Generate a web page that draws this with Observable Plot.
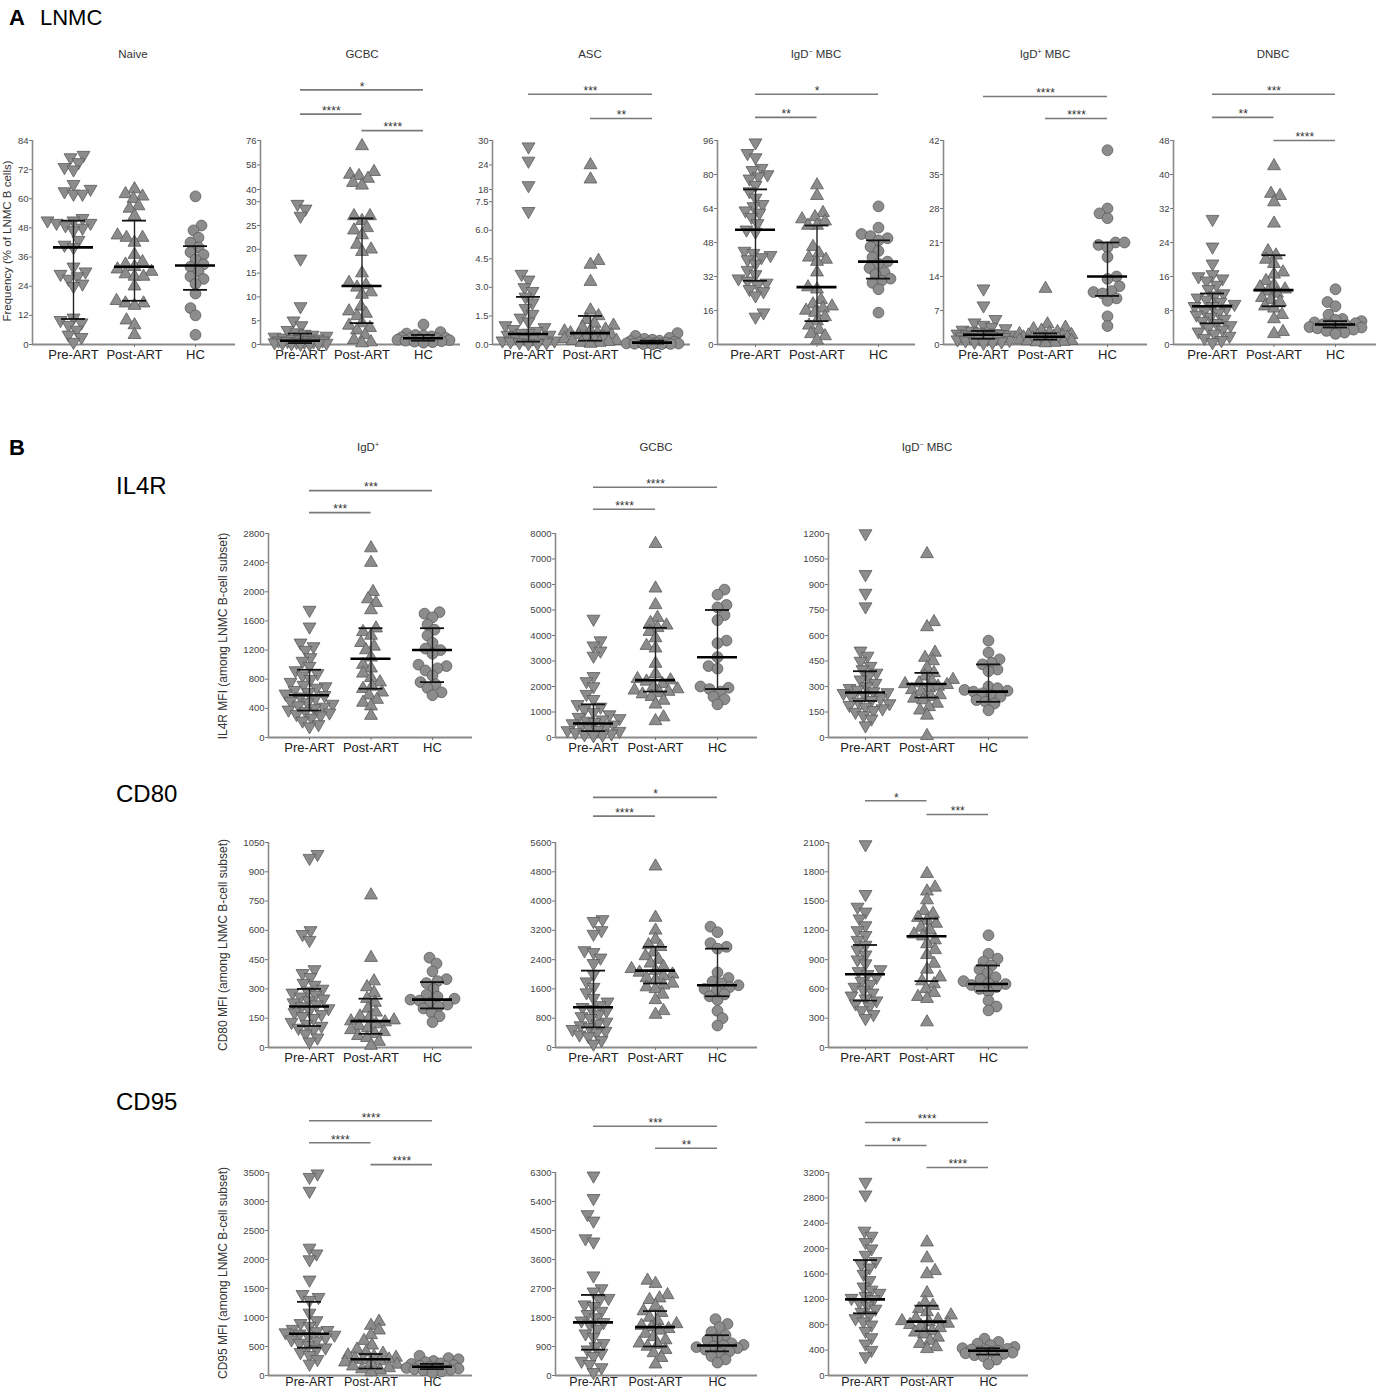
<!DOCTYPE html>
<html><head><meta charset="utf-8">
<script src="https://cdn.jsdelivr.net/npm/d3@7"></script>
<script src="https://cdn.jsdelivr.net/npm/@observablehq/plot@0.6"></script>
<style>
body{margin:0;background:#fff;}
#fig{position:relative;width:1376px;height:1392px;overflow:hidden;font-family:"Liberation Sans",Arial,sans-serif;color:#222;background:#fff;}
.t{position:absolute;white-space:nowrap;line-height:1;}
.t sup{font-size:0.6em;line-height:0;vertical-align:0.55em;}
#fig svg{overflow:visible;position:absolute;}
</style></head><body><div id="fig"></div>
<script>
const groups = ["Pre-ART", "Post-ART", "HC"];

// ---------- Panel A: frequency (% of LNMC B cells) ----------
const naivePre  = [78, 77, 75, 73, 72, 66, 64, 63, 62, 62, 52, 51, 51, 50, 50, 49, 48, 47, 43, 41, 40, 32, 30, 29, 28, 27, 25, 24, 11, 10, 9, 8, 6, 4, 3, 1];
const naivePost = [64, 62, 61, 60, 57, 56, 53, 45, 44, 44, 42, 37, 34, 33, 32, 31, 30, 29, 28, 28, 24, 18, 17, 17, 16, 10, 8, 4];
const naiveHC   = [61, 49, 47, 44, 42, 40, 38, 37, 35, 33, 32, 30, 28, 27, 25, 21, 15, 12, 4];
const naiveStats = [[40, 10.5, 51], [32, 18, 51], [32.5, 22.5, 40.5]];

const gcbcPre  = [29.5, 28.5, 27, 18, 8, 5, 4, 3, 2.5, 2.2, 2, 1.8, 1.6, 1.4, 1.2, 1.1, 1, 0.9, 0.8, 0.8, 0.7, 0.6, 0.5, 0.5, 0.4, 0.3, 0.3, 0.2, 0.2, 0.1, 0.1];
const gcbcPost = [72, 53, 51, 50, 48, 45, 43, 27, 27, 26, 24.5, 24, 23, 21, 20, 19.5, 15, 13, 12.5, 12, 11, 10.5, 8, 7, 6.5, 6, 4.5, 4, 3.5, 3, 2, 1, 0.5, 0.3];
const gcbcHC   = [4.2, 2.6, 2.3, 2.0, 1.9, 1.7, 1.5, 1.4, 1.3, 1.3, 1.2, 1.1, 1.0, 0.9, 0.8, 0.7, 0.6, 0.5, 0.4];
const gcbcStats = [[0.8, 0.3, 2.3], [12.3, 4.5, 26.5], [1.3, 0.8, 2]];

const ascPre  = [28.5, 25, 19, 7, 3.7, 3.4, 3.0, 2.8, 2.5, 2.2, 1.9, 1.6, 1.4, 1.2, 1.0, 0.9, 0.8, 0.7, 0.6, 0.6, 0.5, 0.5, 0.4, 0.4, 0.3, 0.3, 0.2, 0.2, 0.15, 0.1, 0.1, 0.05, 0.05];
const ascPost = [24, 20.5, 4.4, 4.2, 3.3, 1.8, 1.5, 1.3, 1.1, 1.0, 0.9, 0.8, 0.7, 0.7, 0.6, 0.6, 0.5, 0.5, 0.4, 0.4, 0.3, 0.3, 0.2, 0.2, 0.15, 0.1, 0.1, 0.05];
const ascHC   = [0.6, 0.45, 0.35, 0.3, 0.25, 0.2, 0.18, 0.15, 0.12, 0.1, 0.1, 0.08, 0.06, 0.05, 0.04, 0.03, 0.02, 0.02, 0.01];
const ascStats = [[0.55, 0.15, 2.5], [0.6, 0.2, 1.5], [0.1, 0.05, 0.2]];

const mbcNegPre  = [95, 90, 88, 83, 82, 80, 79, 78, 75, 72, 69, 66, 65, 63, 62, 60, 57, 54, 53, 44, 43, 42, 41, 40, 38, 35, 33, 31, 30, 29, 28, 26, 25, 23, 15, 13];
const mbcNegPost = [75, 70, 62, 60, 59, 58, 56, 56, 46, 43, 41, 40, 39, 34, 27, 26, 21, 19, 18, 17, 16, 15, 13, 11, 9, 7, 5, 4, 2];
const mbcNegHC   = [65, 55, 52, 51, 50, 49, 46, 44, 41, 39, 38, 36, 34, 33, 31, 30, 29, 26, 15];
const mbcNegStats = [[54, 30, 73], [27, 11, 56], [39, 31, 49]];

const mbcPosPre  = [11.5, 8, 5.2, 4.5, 4, 3.6, 3.3, 3, 2.8, 2.6, 2.4, 2.3, 2.2, 2.1, 2, 2, 1.9, 1.8, 1.7, 1.6, 1.5, 1.4, 1.3, 1.2, 1.1, 1.0, 0.9, 0.8, 0.6, 0.5, 0.4, 0.3];
const mbcPosPost = [11.5, 4.2, 3.5, 3.2, 2.9, 2.6, 2.4, 2.2, 2.0, 1.9, 1.8, 1.7, 1.6, 1.6, 1.5, 1.4, 1.3, 1.2, 1.1, 1.0, 0.9, 0.8, 0.7, 0.6, 0.5, 0.4, 0.3];
const mbcPosHC   = [40, 28, 27, 26, 21, 21, 20.5, 20, 18, 14, 13.5, 12, 11, 10.8, 10.5, 9.5, 9, 5.8, 3.8];
const mbcPosStats = [[2, 1.2, 2.8], [1.6, 1, 2.3], [14, 10, 21]];

const dnbcPre  = [29.5, 23, 19, 16.5, 16, 15.5, 15, 14, 13, 12, 11.5, 11, 10.5, 10, 9.5, 9, 9, 8.5, 8, 7.5, 7, 6.5, 6, 5.5, 5, 4.5, 4, 3.5, 3, 2.5, 2, 1.5, 1, 0.5];
const dnbcPost = [42, 35.5, 35, 33.5, 28.5, 22, 21, 20, 19, 17, 16.5, 15, 14, 13.5, 13, 12.5, 12, 11, 10.5, 10, 9, 8.5, 7, 6, 3, 2.5];
const dnbcHC   = [13, 10, 9, 7, 6, 5.8, 5.5, 5.2, 5, 4.8, 4.6, 4.5, 4.3, 4.1, 4, 3.8, 3.5, 3.2, 2.8, 2.5];
const dnbcStats = [[9, 5, 12], [12.8, 9, 21], [4.7, 4, 5.5]];

// ---------- Panel B: MFI among LNMC B-cell subset ----------
const il4rIgdPre  = [1750, 1520, 1300, 1250, 1200, 1100, 1050, 980, 920, 880, 850, 800, 760, 720, 700, 680, 650, 620, 600, 580, 560, 540, 500, 480, 460, 440, 420, 400, 380, 360, 340, 320, 300, 270, 230, 180, 150];
const il4rIgdPost = [2600, 2400, 2000, 1900, 1850, 1750, 1500, 1450, 1400, 1300, 1250, 1200, 1100, 1000, 950, 880, 820, 760, 700, 670, 620, 580, 520, 480, 430, 300];
const il4rIgdHC   = [1720, 1700, 1650, 1550, 1480, 1400, 1300, 1220, 1200, 1150, 1000, 980, 950, 920, 850, 760, 730, 680, 620, 580];
const il4rIgdStats = [[580, 370, 930], [1080, 670, 1500], [1200, 760, 1500]];

const il4rGcPre  = [4650, 3800, 3600, 3400, 3200, 2400, 2200, 2000, 1700, 1500, 1300, 1200, 1100, 1000, 900, 800, 750, 700, 650, 600, 550, 500, 450, 400, 350, 300, 280, 250, 200, 150, 120, 100, 80];
const il4rGcPost = [7600, 5850, 5200, 4700, 4500, 4400, 4300, 4150, 3900, 3600, 3500, 2900, 2500, 2300, 2250, 2200, 2100, 2000, 1900, 1850, 1800, 1750, 1700, 1600, 1450, 1300, 800, 650];
const il4rGcHC   = [5800, 5600, 5200, 5100, 4800, 4600, 3800, 3700, 3150, 2800, 2700, 2000, 1950, 1900, 1800, 1600, 1500, 1300];
const il4rGcStats = [[550, 250, 1300], [2250, 1800, 4300], [3150, 1900, 5000]];

const il4rMbcPre  = [1200, 960, 850, 770, 510, 480, 450, 420, 400, 380, 360, 340, 320, 300, 290, 280, 270, 265, 260, 250, 240, 230, 220, 210, 200, 190, 180, 170, 160, 150, 130, 110, 70];
const il4rMbcPost = [1080, 680, 650, 500, 470, 450, 410, 380, 360, 340, 330, 320, 315, 310, 300, 290, 280, 270, 250, 240, 230, 220, 200, 180, 160, 130, 10];
const il4rMbcHC   = [570, 500, 460, 440, 430, 400, 390, 300, 290, 280, 275, 270, 260, 250, 240, 220, 210, 200, 160];
const il4rMbcStats = [[265, 215, 390], [315, 235, 380], [270, 210, 430]];

const cd80IgdPre  = [990, 970, 600, 580, 550, 400, 380, 360, 330, 320, 300, 290, 280, 270, 260, 250, 240, 230, 220, 210, 200, 190, 180, 170, 160, 150, 130, 120, 110, 100, 90, 70, 50, 30];
const cd80IgdPost = [780, 460, 340, 310, 280, 250, 230, 200, 180, 160, 150, 140, 135, 130, 120, 110, 100, 90, 80, 70, 60, 50, 30, 10];
const cd80IgdHC   = [460, 430, 390, 350, 340, 330, 300, 270, 260, 250, 245, 240, 230, 220, 210, 200, 180, 160, 130];
const cd80IgdStats = [[210, 110, 300], [135, 70, 250], [245, 200, 335]];

const cd80GcPre  = [3500, 3450, 3200, 3100, 2650, 2600, 2450, 2300, 2000, 1800, 1650, 1500, 1350, 1250, 1150, 1100, 1050, 1000, 900, 850, 800, 700, 650, 600, 550, 500, 450, 400, 350, 300, 200, 100];
const cd80GcPost = [4950, 3550, 3200, 2950, 2800, 2750, 2600, 2500, 2400, 2300, 2200, 2150, 2100, 2050, 2000, 1950, 1900, 1850, 1750, 1700, 1650, 1600, 1450, 1300, 1000, 900];
const cd80GcHC   = [3300, 3150, 2850, 2750, 2700, 2050, 1900, 1800, 1750, 1700, 1650, 1600, 1550, 1450, 1400, 1300, 1000, 800, 600];
const cd80GcStats = [[1100, 550, 2100], [2100, 1750, 2750], [1700, 1400, 2700]];

const cd80MbcPre  = [2080, 1570, 1440, 1390, 1320, 1250, 1200, 1150, 1100, 1050, 1000, 950, 900, 860, 800, 780, 750, 720, 680, 650, 620, 590, 560, 530, 500, 480, 450, 420, 380, 340, 300];
const cd80MbcPost = [1780, 1640, 1600, 1510, 1400, 1370, 1330, 1300, 1270, 1230, 1200, 1160, 1140, 1100, 1060, 1000, 950, 860, 800, 720, 680, 650, 600, 560, 520, 500, 260];
const cd80MbcHC   = [1150, 960, 910, 880, 840, 800, 760, 720, 700, 680, 660, 650, 640, 620, 600, 570, 480, 420, 380];
const cd80MbcStats = [[750, 480, 1050], [1140, 680, 1320], [650, 580, 840]];

const cd95IgdPre  = [3480, 3420, 3180, 2200, 2100, 2000, 1650, 1400, 1350, 1300, 1080, 950, 900, 850, 800, 780, 760, 740, 720, 700, 680, 650, 620, 600, 560, 520, 480, 450, 400, 350, 280, 200];
const cd95IgdPost = [930, 860, 780, 700, 600, 520, 450, 400, 380, 350, 330, 310, 290, 280, 270, 250, 230, 210, 190, 160, 130, 110, 90, 60];
const cd95IgdHC   = [340, 300, 280, 250, 230, 210, 200, 180, 170, 160, 150, 140, 130, 120, 110, 100, 90, 70, 50];
const cd95IgdStats = [[720, 480, 1270], [280, 120, 370], [150, 110, 200]];

const cd95GcPre  = [6200, 5500, 5000, 4800, 4250, 4150, 3100, 2700, 2600, 2400, 2350, 2200, 2150, 2000, 1900, 1800, 1700, 1650, 1600, 1450, 1300, 1200, 1000, 900, 800, 700, 600, 450, 350, 250, 100];
const cd95GcPost = [2950, 2850, 2500, 2400, 2350, 2150, 2000, 1950, 1800, 1700, 1600, 1550, 1500, 1450, 1400, 1300, 1200, 1100, 1000, 950, 900, 800, 700, 550, 350];
const cd95GcHC   = [1750, 1600, 1500, 1350, 1250, 1150, 1100, 1000, 950, 930, 900, 880, 850, 800, 750, 700, 600, 500, 400];
const cd95GcStats = [[1650, 800, 2500], [1500, 900, 2000], [930, 750, 1250]];

const cd95MbcPre  = [3050, 2850, 2280, 2200, 2100, 2000, 1900, 1800, 1750, 1700, 1600, 1500, 1400, 1350, 1300, 1250, 1220, 1200, 1150, 1100, 1050, 1000, 950, 900, 850, 800, 700, 600, 500, 400, 300];
const cd95MbcPost = [2100, 1850, 1650, 1600, 1300, 1150, 1100, 1050, 1000, 950, 900, 880, 860, 840, 820, 800, 780, 750, 700, 680, 650, 600, 550, 500, 450, 420];
const cd95MbcHC   = [580, 530, 500, 480, 450, 430, 420, 410, 400, 390, 380, 370, 360, 350, 340, 320, 300, 250, 180];
const cd95MbcStats = [[1200, 980, 1820], [850, 700, 1100], [390, 330, 430]];

// significance comparisons: [from group, to group, label, tier]
const gcbcSig   = [[0, 2, "*", 2.3], [0, 1, "****", 1.2], [1, 2, "****", 0.45]];
const ascSig    = [[0, 2, "***", 2.1], [1, 2, "**", 1.0]];
const mbcNegSig = [[0, 2, "*", 2.1], [0, 1, "**", 1.05]];
const mbcPosSig = [[0, 2, "****", 2.0], [1, 2, "****", 1.0]];
const dnbcSig   = [[0, 2, "***", 2.1], [0, 1, "**", 1.05], [1, 2, "****", 0]];
const il4rIgdSig = [[0, 2, "***", 1.95], [0, 1, "***", 0.95]];
const il4rGcSig  = [[0, 2, "****", 2.1], [0, 1, "****", 1.1]];
const cd80GcSig  = [[0, 2, "*", 2.05], [0, 1, "****", 1.2]];
const cd80MbcSig = [[0, 1, "*", 1.9], [1, 2, "***", 1.27]];
const cd95IgdSig = [[0, 2, "****", 2.35], [0, 1, "****", 1.35], [1, 2, "****", 0.36]];
const cd95GcSig  = [[0, 2, "***", 2.1], [1, 2, "**", 1.1]];
const cd95MbcSig = [[0, 2, "****", 2.27], [0, 1, "**", 1.23], [1, 2, "****", 0.23]];

// ---------- drawing ----------
const fig = document.getElementById("fig");

function txt(html, x, baseline, size, opt = {}) {
  const d = document.createElement("div");
  d.className = "t";
  d.innerHTML = html;
  d.style.fontSize = size + "px";
  d.style.left = x + "px";
  d.style.top = (baseline - 0.8465 * size) + "px";
  if (opt.weight) d.style.fontWeight = opt.weight;
  if (opt.color) d.style.color = opt.color;
  if (opt.center) d.style.transform = "translateX(-50%)";
  fig.appendChild(d);
}
function vtxt(html, cx, cy, size) {
  const d = document.createElement("div");
  d.className = "t";
  d.innerHTML = html;
  d.style.fontSize = size + "px";
  d.style.left = cx + "px";
  d.style.top = cy + "px";
  d.style.color = "#333";
  d.style.transform = "translate(-50%,-50%) rotate(-90deg)";
  fig.appendChild(d);
}

function swarm(py, minD, maxOff) {
  const idx = py.map((_, i) => i).sort((a, b) => py[b] - py[a]);
  const off = new Array(py.length).fill(0);
  const placed = [];
  idx.forEach((i, n) => {
    let best = 0, bestD = -1, found = false;
    for (let m = 0; m <= maxOff && !found; m += 1) {
      for (const s of (n % 2 ? [1, -1] : [-1, 1])) {
        const o = s * m;
        let d = Infinity;
        for (const p of placed) {
          const dd = Math.hypot(o - p.o, py[i] - p.y);
          if (dd < d) d = dd;
        }
        if (d >= minD) { best = o; found = true; break; }
        if (d > bestD) { bestD = d; best = o; }
      }
    }
    off[i] = best;
    placed.push({o: best, y: py[i]});
  });
  return off;
}

const symbols = [
  {symbol: "triangle", rotate: 180, r: 4.8},
  {symbol: "triangle", rotate: 0, r: 4.8},
  {symbol: "circle", rotate: 0, r: 5.4}
];

function panel(cfg) {
  const {series, stats, sig = [], axisX, cat0, step, endX, y0, yTop, domain, stops = [0, 1], ticks,
    fmt = d => String(d), xFont = 13, xPad = 2, xTick = 3} = cfg;
  const mL = 44, mR = 6, mT = 70, mB = 30;
  const H = y0 - yTop, W = endX - axisX;
  const width = mL + W + mR, height = mT + H + mB;
  const yRange = stops.map(f => mT + H * (1 - f));
  const ys = Plot.scale({y: {type: "linear", domain, range: yRange}});
  const xDomain = [(axisX - cat0) / step, (endX - cat0) / step];
  const top = domain[domain.length - 1];

  const marks = [
    Plot.ruleY([domain[0]], {stroke: "#8a8a8a", strokeWidth: 2}),
    Plot.ruleX([xDomain[0]], {stroke: "#8a8a8a", strokeWidth: 1.6}),
    Plot.axisY({ticks, tickFormat: fmt, tickSize: 3, tickPadding: 1, fontSize: 9.5, stroke: "#777", fill: "#444", label: null}),
    Plot.axisX({ticks: [0, 1, 2], tickFormat: i => groups[i], tickSize: xTick, tickPadding: xPad, fontSize: xFont, stroke: "#777", fill: "#222", label: null})
  ];
  series.forEach((vals, gi) => {
    const offs = swarm(vals.map(v => ys.apply(v)), 8.6, 26);
    const rows = vals.map((v, k) => ({v, x: gi + offs[k] / step}));
    const s = symbols[gi];
    marks.push(Plot.dot(rows, {x: "x", y: "v", symbol: s.symbol, rotate: s.rotate, r: s.r,
      fill: "#8c8c8c", stroke: "#5a5a5a", strokeWidth: 0.8}));
  });
  const st = stats.map(([m, q1, q3], i) => ({i, m, q1, q3}));
  marks.push(
    Plot.ruleX(st, {x: "i", y1: "q1", y2: "q3", stroke: "#222", strokeWidth: 1.4}),
    Plot.ruleY(st, {y: "q1", x1: d => d.i - 12 / step, x2: d => d.i + 12 / step, stroke: "#111", strokeWidth: 1.8}),
    Plot.ruleY(st, {y: "q3", x1: d => d.i - 12 / step, x2: d => d.i + 12 / step, stroke: "#111", strokeWidth: 1.8}),
    Plot.ruleY(st, {y: "m", x1: d => d.i - 20 / step, x2: d => d.i + 20 / step, stroke: "#000", strokeWidth: 2.6})
  );
  sig.forEach(([a, b, lab, tier]) => {
    const row = [{a, b, mid: (a + b) / 2, top, lab}];
    marks.push(
      Plot.ruleY(row, {y: "top", x1: "a", x2: "b", dy: -tier * 22, stroke: "#7a7a7a", strokeWidth: 1.6}),
      Plot.text(row, {x: "mid", y: "top", text: "lab", dy: -tier * 22 - 3, fontSize: 12, fill: "#333", letterSpacing: "1px"})
    );
  });

  const svg = Plot.plot({
    width, height, marginLeft: mL, marginRight: mR, marginTop: mT, marginBottom: mB,
    x: {domain: xDomain, label: null},
    y: {type: "linear", domain, range: yRange, label: null},
    style: {fontFamily: "Liberation Sans, Arial, sans-serif", fontSize: "10px", background: "transparent", color: "#333", overflow: "visible"},
    marks
  });
  svg.style.left = (axisX - mL) + "px";
  svg.style.top = (yTop - mT) + "px";
  fig.appendChild(svg);
}

function ticksBy(max, stepv) { return d3.range(0, max + stepv / 2, stepv); }

// Panel A
const rowA = {y0: 344, yTop: 140};
panel({...rowA, series: [naivePre, naivePost, naiveHC], stats: naiveStats, axisX: 32, cat0: 73, step: 61, endX: 235, domain: [0, 84], ticks: ticksBy(84, 12)});
panel({...rowA, series: [gcbcPre, gcbcPost, gcbcHC], stats: gcbcStats, sig: gcbcSig, axisX: 260, cat0: 300, step: 61.5, endX: 460,
  domain: [0, 30, 40, 76], stops: [0, 0.70, 0.76, 1], ticks: [0, 5, 10, 15, 20, 25, 30, 40, 58, 76]});
panel({...rowA, series: [ascPre, ascPost, ascHC], stats: ascStats, sig: ascSig, axisX: 492, cat0: 528, step: 62, endX: 690,
  domain: [0, 7.5, 18, 30], stops: [0, 0.70, 0.76, 1], ticks: [0, 1.5, 3, 4.5, 6, 7.5, 18, 24, 30], fmt: d => d <= 7.5 ? d.toFixed(1) : String(d)});
panel({...rowA, series: [mbcNegPre, mbcNegPost, mbcNegHC], stats: mbcNegStats, sig: mbcNegSig, axisX: 717, cat0: 755, step: 61.5, endX: 915, domain: [0, 96], ticks: ticksBy(96, 16)});
panel({...rowA, series: [mbcPosPre, mbcPosPost, mbcPosHC], stats: mbcPosStats, sig: mbcPosSig, axisX: 943, cat0: 983, step: 62, endX: 1147, domain: [0, 42], ticks: ticksBy(42, 7)});
panel({...rowA, series: [dnbcPre, dnbcPost, dnbcHC], stats: dnbcStats, sig: dnbcSig, axisX: 1173, cat0: 1212, step: 61.5, endX: 1376, domain: [0, 48], ticks: ticksBy(48, 8)});

// Panel B
const colP = {axisX: 268, cat0: 309, step: 61.5, endX: 472};
const colG = {axisX: 555, cat0: 593, step: 62, endX: 757};
const colN = {axisX: 828, cat0: 865, step: 61.5, endX: 1028};
const rIL = {y0: 737, yTop: 533};
const r80 = {y0: 1047, yTop: 842};
const r95 = {y0: 1375, yTop: 1172, xFont: 12.5, xPad: 0, xTick: 2};
panel({...colP, ...rIL, series: [il4rIgdPre, il4rIgdPost, il4rIgdHC], stats: il4rIgdStats, sig: il4rIgdSig, domain: [0, 2800], ticks: ticksBy(2800, 400)});
panel({...colG, ...rIL, series: [il4rGcPre, il4rGcPost, il4rGcHC], stats: il4rGcStats, sig: il4rGcSig, domain: [0, 8000], ticks: ticksBy(8000, 1000)});
panel({...colN, ...rIL, series: [il4rMbcPre, il4rMbcPost, il4rMbcHC], stats: il4rMbcStats, domain: [0, 1200], ticks: ticksBy(1200, 150)});
panel({...colP, ...r80, series: [cd80IgdPre, cd80IgdPost, cd80IgdHC], stats: cd80IgdStats, domain: [0, 1050], ticks: ticksBy(1050, 150)});
panel({...colG, ...r80, series: [cd80GcPre, cd80GcPost, cd80GcHC], stats: cd80GcStats, sig: cd80GcSig, domain: [0, 5600], ticks: ticksBy(5600, 800)});
panel({...colN, ...r80, series: [cd80MbcPre, cd80MbcPost, cd80MbcHC], stats: cd80MbcStats, sig: cd80MbcSig, domain: [0, 2100], ticks: ticksBy(2100, 300)});
panel({...colP, ...r95, series: [cd95IgdPre, cd95IgdPost, cd95IgdHC], stats: cd95IgdStats, sig: cd95IgdSig, domain: [0, 3500], ticks: ticksBy(3500, 500)});
panel({...colG, ...r95, series: [cd95GcPre, cd95GcPost, cd95GcHC], stats: cd95GcStats, sig: cd95GcSig, domain: [0, 6300], ticks: ticksBy(6300, 900)});
panel({...colN, ...r95, series: [cd95MbcPre, cd95MbcPost, cd95MbcHC], stats: cd95MbcStats, sig: cd95MbcSig, domain: [0, 3200], ticks: ticksBy(3200, 400)});

// Text
txt("A", 9, 26, 22, {weight: "bold", color: "#000"});
txt("LNMC", 40, 26, 22, {color: "#000"});
txt("B", 9, 456, 22, {weight: "bold", color: "#000"});
[["Naive", 133], ["GCBC", 362], ["ASC", 590], ["IgD<sup>−</sup> MBC", 816], ["IgD<sup>+</sup> MBC", 1045], ["DNBC", 1273]]
  .forEach(([t, x]) => txt(t, x, 59, 11.5, {center: true, color: "#333"}));
[["IgD<sup>+</sup>", 368], ["GCBC", 656], ["IgD<sup>−</sup> MBC", 927]]
  .forEach(([t, x]) => txt(t, x, 452, 11.5, {center: true, color: "#333"}));
txt("IL4R", 116, 494, 24, {color: "#000"});
txt("CD80", 116, 802, 24, {color: "#000"});
txt("CD95", 116, 1110, 24, {color: "#000"});
vtxt("Frequency (% of LNMC B cells)", 8, 241, 11.5);
vtxt("IL4R MFI (among LNMC B-cell subset)", 223, 636, 12);
vtxt("CD80 MFI (among LNMC B-cell subset)", 223, 945, 12);
vtxt("CD95 MFI (among LNMC B-cell subset)", 223, 1273, 12);
</script>
</body></html>
